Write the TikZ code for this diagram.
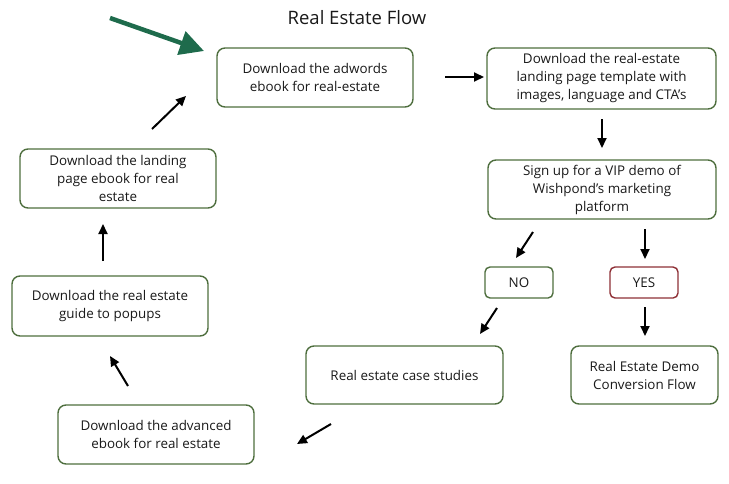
\documentclass[tikz,border=0pt]{standalone}
\usepackage{fontspec}
\setmainfont{Open Sans}
\usetikzlibrary{arrows.meta}
\definecolor{boxgreen}{HTML}{4E6E3E}
\definecolor{boxred}{HTML}{8E2F35}
\definecolor{arrgreen}{HTML}{1E6B4C}
\tikzset{
  flowbox/.style={draw=boxgreen, line width=1.4pt, rounded corners=8pt, align=center,
    inner sep=0pt, font=\fontsize{13.4}{18}\selectfont, text=black!90},
  arr/.style={-{Triangle[length=10pt,width=9pt]}, line width=2pt, black},
}
\begin{document}
\begin{tikzpicture}[x=1pt,y=-1pt]
\useasboundingbox (0,0) rectangle (729,483);
\node[font=\fontsize{18.5}{22}\selectfont, text=black!90] (title) at (357,18) {Real Estate Flow};

\node[flowbox, minimum width=196pt, minimum height=59pt] (adw) at (315,77.5) {Download the adwords\\ebook for real-estate};
\node[flowbox, minimum width=229pt, minimum height=61pt] (tpl) at (601.5,78.5) {Download the real-estate\\landing page template with\\images, language and CTA's};
\node[flowbox, minimum width=228pt, minimum height=59pt] (vip) at (602,189.5) {Sign up for a VIP demo of\\Wishpond's marketing\\platform};
\node[flowbox, minimum width=68pt, minimum height=31pt, rounded corners=5pt] (no) at (519,282.5) {NO};
\node[flowbox, draw=boxred, minimum width=68pt, minimum height=31pt, rounded corners=5pt] (yes) at (644,282.5) {YES};
\node[flowbox, minimum width=147pt, minimum height=58pt] (demo) at (644.5,375) {Real Estate Demo\\Conversion Flow};
\node[flowbox, minimum width=197pt, minimum height=58pt] (case) at (404.5,375) {Real estate case studies};
\node[flowbox, minimum width=196pt, minimum height=59pt] (adv) at (156,434.5) {Download the advanced\\ebook for real estate};
\node[flowbox, minimum width=196pt, minimum height=60pt] (pop) at (110,306) {Download the real estate\\guide to popups};
\node[flowbox, minimum width=196pt, minimum height=59pt] (land) at (118,178.5) {Download the landing\\page ebook for real\\estate};

% green start arrow
\coordinate (gs) at (110,18);
\coordinate (ge) at (204,51);
\draw[-{Triangle[length=24pt,width=24pt]}, line width=4.5pt, arrgreen] (gs) -- (ge);

\coordinate (a1s) at (445,77); \coordinate (a1e) at (484,77);
\draw[arr] (a1s) -- (a1e);
\coordinate (a2s) at (602,119); \coordinate (a2e) at (602,148);
\draw[arr] (a2s) -- (a2e);
\coordinate (a3s) at (533,232); \coordinate (a3e) at (516,258);
\draw[arr] (a3s) -- (a3e);
\coordinate (a4s) at (645,229); \coordinate (a4e) at (645,259);
\draw[arr] (a4s) -- (a4e);
\coordinate (a5s) at (497,308); \coordinate (a5e) at (480,334);
\draw[arr] (a5s) -- (a5e);
\coordinate (a6s) at (645,307); \coordinate (a6e) at (645,336);
\draw[arr] (a6s) -- (a6e);
\coordinate (a7s) at (331,424); \coordinate (a7e) at (297,444);
\draw[arr] (a7s) -- (a7e);
\coordinate (a8s) at (128,386); \coordinate (a8e) at (110,356);
\draw[arr] (a8s) -- (a8e);
\coordinate (a9s) at (103,261); \coordinate (a9e) at (103,224);
\draw[arr] (a9s) -- (a9e);
\coordinate (a10s) at (152,129); \coordinate (a10e) at (186,96);
\draw[arr] (a10s) -- (a10e);
\end{tikzpicture}
\end{document}
